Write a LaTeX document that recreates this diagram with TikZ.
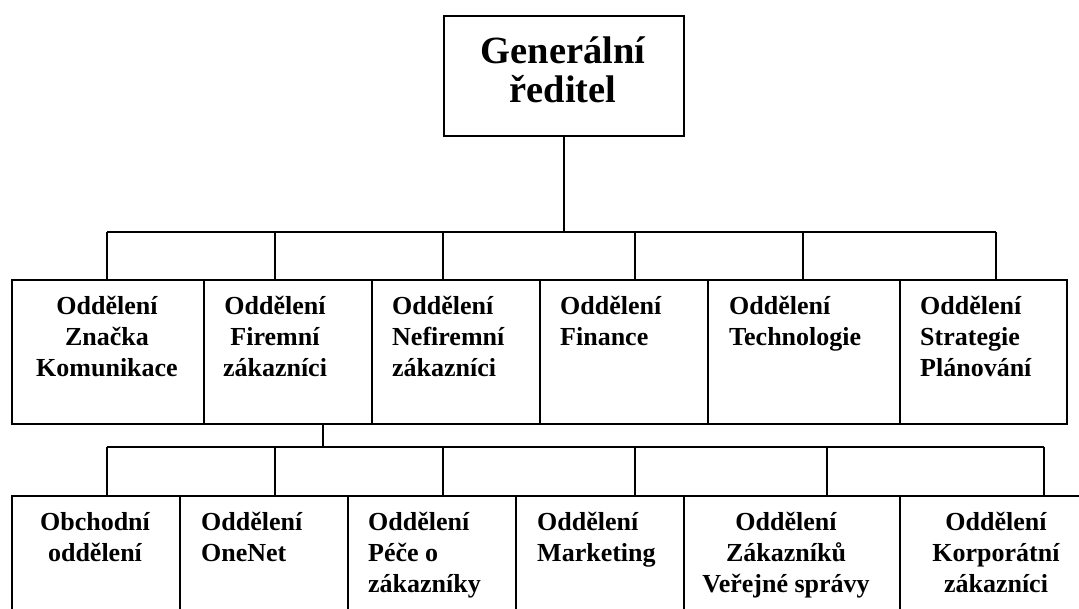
\documentclass[tikz,border=0pt]{standalone}
\usepackage{fontspec}
\setmainfont{Liberation Serif}
\begin{document}
\begin{tikzpicture}[x=1pt,y=-1pt,
  box/.style={draw, line width=1.6pt, inner sep=0pt, anchor=north west},
  txt/.style={font=\fontsize{26}{31}\selectfont\bfseries, inner sep=0pt, anchor=base},
  ctxt/.style={txt, align=center},
  ltxt/.style={txt, align=left, anchor=base west},
  conn/.style={line width=1.6pt}]
\useasboundingbox (0,0) rectangle (1079,608);
\clip (0,0) rectangle (1079,608);

% top box
\node[box, minimum width=240pt, minimum height=120pt] (g) at (443,15) {};
\node[txt, align=center, font=\fontsize{38.5}{39}\selectfont\bfseries] (gt) at (563,102) {Generální\\ředitel};

% row 1 boxes
\node[box, minimum width=192pt, minimum height=144pt] (a1) at (11,279) {};
\node[box, minimum width=168pt, minimum height=144pt] (a2) at (203,279) {};
\node[box, minimum width=168pt, minimum height=144pt] (a3) at (371,279) {};
\node[box, minimum width=168pt, minimum height=144pt] (a4) at (539,279) {};
\node[box, minimum width=192pt, minimum height=144pt] (a5) at (707,279) {};
\node[box, minimum width=167pt, minimum height=144pt] (a6) at (899,279) {};

\node[ctxt] (a1t) at (107,376) {Oddělení\\Značka\\Komunikace};
\node[ctxt] (a2t) at (275,376) {Oddělení\\Firemní\\zákazníci};
\node[ltxt] (a3t) at (392,376) {Oddělení\\Nefiremní\\zákazníci};
\node[ltxt] (a4t) at (560,345) {Oddělení\\Finance};
\node[ltxt] (a5t) at (729,345) {Oddělení\\Technologie};
\node[ltxt] (a6t) at (920,376) {Oddělení\\Strategie\\Plánování};

% row 2 boxes
\node[box, minimum width=168pt, minimum height=140pt] (b1) at (11,495) {};
\node[box, minimum width=168pt, minimum height=140pt] (b2) at (179,495) {};
\node[box, minimum width=168pt, minimum height=140pt] (b3) at (347,495) {};
\node[box, minimum width=168pt, minimum height=140pt] (b4) at (515,495) {};
\node[box, minimum width=216pt, minimum height=140pt] (b5) at (683,495) {};
\node[box, minimum width=194pt, minimum height=140pt] (b6) at (899,495) {};

\node[ctxt] (b1t) at (95,561) {Obchodní\\oddělení};
\node[ltxt] (b2t) at (201,561) {Oddělení\\OneNet};
\node[ltxt] (b3t) at (368,592) {Oddělení\\Péče o\\zákazníky};
\node[ltxt] (b4t) at (537,561) {Oddělení\\Marketing};
\node[ctxt] (b5t) at (786,592) {Oddělení\\Zákazníků\\Veřejné správy};
\node[ctxt] (b6t) at (996,592) {Oddělení\\Korporátní\\zákazníci};

% level 1 connectors
\coordinate (p1) at (107,232);
\coordinate (p2) at (275,232);
\coordinate (p3) at (443,232);
\coordinate (p4) at (635,232);
\coordinate (p5) at (803,232);
\coordinate (p6) at (996,232);
\draw[conn] (g.south) -- (g.south |- p1);
\draw[conn] (p1) -- (p6);
\draw[conn] (p1) -- (p1 |- a1.north);
\draw[conn] (p2) -- (p2 |- a2.north);
\draw[conn] (p3) -- (p3 |- a3.north);
\draw[conn] (p4) -- (p4 |- a4.north);
\draw[conn] (p5) -- (p5 |- a5.north);
\draw[conn] (p6) -- (p6 |- a6.north);

% level 2 connectors
\coordinate (t2) at (323,447);
\coordinate (q1) at (107,447);
\coordinate (q2) at (275,447);
\coordinate (q3) at (443,447);
\coordinate (q4) at (635,447);
\coordinate (q5) at (827,447);
\coordinate (q6) at (1044,447);
\draw[conn] (t2 |- a2.south) -- (t2);
\draw[conn] (q1) -- (q6);
\draw[conn] (q1) -- (q1 |- b1.north);
\draw[conn] (q2) -- (q2 |- b2.north);
\draw[conn] (q3) -- (q3 |- b3.north);
\draw[conn] (q4) -- (q4 |- b4.north);
\draw[conn] (q5) -- (q5 |- b5.north);
\draw[conn] (q6) -- (q6 |- b6.north);
\end{tikzpicture}
\end{document}
